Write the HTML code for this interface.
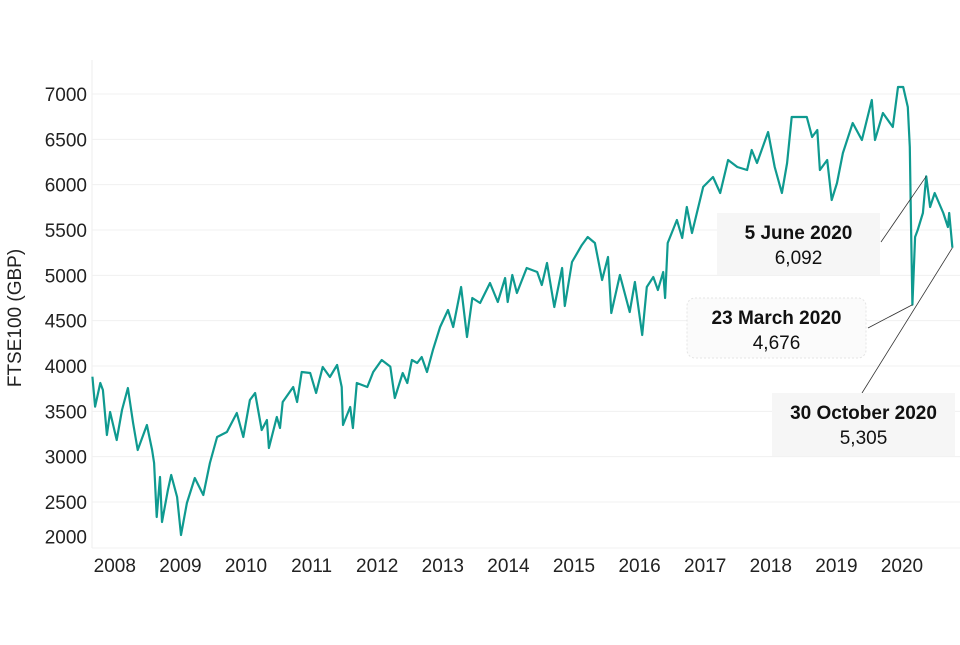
<!DOCTYPE html>
<html><head><meta charset="utf-8"><style>
body{margin:0;background:#fff;}
svg text{font-family:"Liberation Sans",Arial,sans-serif;}
</style></head><body>
<svg id="chart" width="960" height="640" viewBox="0 0 960 640" xmlns="http://www.w3.org/2000/svg">
<g id="grid"></g>
<g id="yticks"></g>
<g id="xticks"></g>
<text transform="translate(21,318) rotate(-90)" text-anchor="middle" font-size="19" fill="#222">FTSE100 (GBP)</text>
<path id="series" fill="none" stroke="#0f9a90" stroke-width="2.2" stroke-linejoin="round"></path>
<g id="annots"></g>
</svg>
<script>
const dates=[2007.72,2007.76,2007.84,2007.88,2007.94,2007.99,2008.09,2008.17,2008.26,2008.34,2008.41,2008.55,2008.63,2008.66,2008.70,2008.75,2008.78,2008.87,2008.92,2009.01,2009.07,2009.16,2009.28,2009.41,2009.51,2009.62,2009.77,2009.92,2010.02,2010.12,2010.20,2010.30,2010.38,2010.41,2010.53,2010.58,2010.62,2010.78,2010.84,2010.91,2011.04,2011.13,2011.23,2011.34,2011.45,2011.52,2011.54,2011.65,2011.69,2011.75,2011.91,2012.00,2012.13,
2012.26,2012.33,2012.45,2012.52,2012.59,2012.67,2012.74,2012.82,2012.91,2013.02,2013.14,2013.22,2013.34,2013.43,2013.51,2013.63,2013.78,2013.90,2014.01,2014.05,2014.12,2014.19,2014.34,2014.50,2014.57,2014.65,2014.76,2014.88,2014.92,2015.03,2015.18,2015.27,2015.38,2015.49,2015.58,2015.63,2015.76,2015.91,2015.99,2016.10,2016.17,2016.27,2016.34,2016.42,2016.45,2016.49,2016.63,2016.71,
2016.78,2016.86,2017.03,2017.18,2017.29,2017.41,2017.55,2017.70,2017.77,2017.85,2018.02,2018.12,2018.23,2018.31,2018.38,2018.61,2018.69,2018.77,2018.81,2018.92,2018.99,2019.07,2019.16,2019.31,2019.45,2019.60,2019.65,2019.77,2019.92,2020.00,2020.08,2020.15,2020.18,2020.20,2020.22,2020.26,2020.30,2020.38,2020.43,2020.49,2020.56,2020.69,2020.76,2020.78,2020.83];
const values=[3882,3551,3813,3735,3239,3493,3184,3515,3758,3371,3074,3349,3074,2930,2335,2776,2280,2633,2798,2555,2136,2489,2765,2577,2930,3217,3272,3482,3217,3625,3702,3294,3404,3096,3438,3316,3603,3769,3603,3934,3923,3702,3989,3879,4011,3769,3349,3548,3316,3813,3769,3934,4066,
3993,3647,3923,3813,4066,4033,4099,3934,4176,4430,4618,4430,4871,4320,4750,4695,4915,4706,4971,4706,5004,4805,5081,5037,4893,5136,4651,5081,4662,5147,5334,5423,5357,4949,5202,4585,5004,4596,4927,4342,4871,4982,4838,5037,4750,5357,5610,5412,
5754,5467,5975,6085,5908,6272,6195,6162,6382,6239,6581,6195,5908,6239,6746,6746,6526,6603,6162,6272,5831,6018,6349,6680,6493,6934,6493,6790,6636,7077,7077,6857,6415,5500,4676,5423,5500,5688,6092,5754,5908,5688,5533,5688,5305];
const yTicks=[2000,2500,3000,3500,4000,4500,5000,5500,6000,6500,7000];
const xYears=[2008,2009,2010,2011,2012,2013,2014,2015,2016,2017,2018,2019,2020];
const annotLabels=["5 June 2020","23 March 2020","30 October 2020"];
const annotValues=["6,092","4,676","5,305"];
const annotDates=[2020.43,2020.22,2020.83];
const annotPoints=[6092,4676,5305];

const NS="http://www.w3.org/2000/svg";
const X=t=>898+(t-2020)*65.6;
const Y=v=>94+(7000-v)*0.09067;
function mk(tag,attrs,parent){const e=document.createElementNS(NS,tag);for(const k in attrs)e.setAttribute(k,attrs[k]);parent.appendChild(e);return e;}
const grid=document.getElementById('grid'),yt=document.getElementById('yticks'),xt=document.getElementById('xticks');
mk('line',{x1:92,x2:92,y1:60,y2:548,stroke:'#eeeeee','stroke-width':1},grid);
yTicks.forEach(v=>{
  if(v>2000){const l=mk('line',{x1:92,x2:960,y1:Y(v),y2:Y(v),stroke:'#f0f0f0','stroke-width':1},grid);
  
  }
  const ty=v===2000?Y(v)-11:Y(v);
  const t=mk('text',{x:87,y:ty+7,'text-anchor':'end','font-size':19,fill:'#222'},yt);t.textContent=v;
  
  
});
mk('line',{x1:92,x2:960,y1:548,y2:548,stroke:'#f0f0f0','stroke-width':1},grid);
xYears.forEach(yv=>{
  const t=mk('text',{x:X(yv)+4,y:572,'text-anchor':'middle','font-size':19,fill:'#222'},xt);t.textContent=yv;
  
  
});
document.getElementById('series').setAttribute('d',dates.map((d,i)=>(i?'L':'M')+X(d).toFixed(1)+','+Y(values[i]).toFixed(1)).join(''));
const an=document.getElementById('annots');
const boxes=[{x:717,y:213,w:163,h:62,lx:881,ly:242,dash:false},{x:687,y:298,w:179,h:60,lx:868,ly:328,dash:true},{x:772,y:393,w:183,h:63,lx:862,ly:393,dash:false}];
annotLabels.forEach((lab,i)=>{
  const b=boxes[i];
  const g=mk('g',{},an);
  
  
  mk('line',{x1:b.lx,y1:b.ly,x2:X(annotDates[i]),y2:Y(annotPoints[i]),stroke:'#333','stroke-width':0.8},g);
  const r=mk('rect',{x:b.x,y:b.y,width:b.w,height:b.h,rx:b.dash?8:0,fill:b.dash?'#fbfbfb':'#f6f6f6'},g);
  if(b.dash){r.setAttribute('stroke','#e4e4e4');r.setAttribute('stroke-dasharray','2,2');}
  const t1=mk('text',{x:b.x+b.w/2,y:b.y+26,'text-anchor':'middle','font-size':19,'font-weight':'bold',fill:'#111'},g);t1.textContent=lab;
  const t2=mk('text',{x:b.x+b.w/2,y:b.y+51,'text-anchor':'middle','font-size':19,fill:'#111'},g);t2.textContent=annotValues[i];
});
</script>
</body></html>
